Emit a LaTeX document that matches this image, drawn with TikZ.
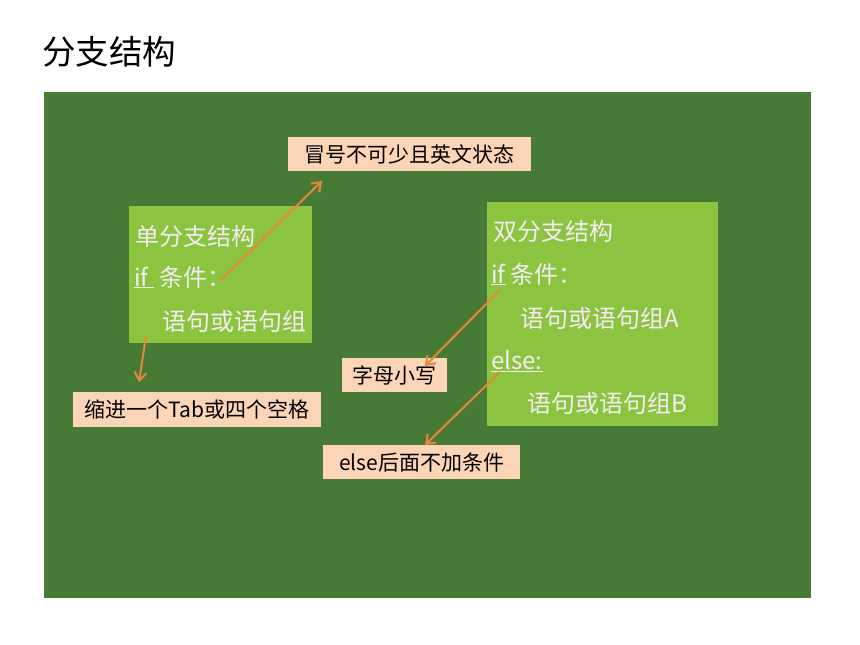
\documentclass[tikz,border=0pt]{standalone}
\usepackage{fontspec}
\setmainfont{Noto Sans CJK SC}
\usetikzlibrary{arrows.meta}
\definecolor{bgdark}{RGB}{70,122,53}
\definecolor{boxgreen}{RGB}{140,196,64}
\definecolor{peach}{RGB}{251,213,182}
\definecolor{arrorange}{RGB}{232,135,58}
\definecolor{softwhite}{RGB}{243,236,243}
\begin{document}
\begin{tikzpicture}[x=1pt,y=-1pt,
  titletext/.style={font=\fontsize{33.5pt}{38pt}\selectfont, text=black, inner sep=0pt, anchor=west},
  gbox/.style={fill=boxgreen, draw=none, anchor=north west, inner sep=0pt},
  gtext/.style={font=\fontsize{24pt}{27pt}\selectfont, text=softwhite, inner sep=0pt, anchor=base west},
  pbox/.style={fill=peach, draw=none, anchor=north west, inner sep=0pt, font=\fontsize{21pt}{24pt}\selectfont, text=black},
  callout/.style={draw=arrorange, line width=2pt, -{Straight Barb[length=8pt,width=12pt]}}
]
\useasboundingbox (0,0) rectangle (860,645);
\fill[white] (0,0) rectangle (860,645);
\node[titletext] (title) at (42,52) {分支结构};
\fill[bgdark] (44,92) rectangle (811,598);

% green boxes
\node[gbox, minimum width=183pt, minimum height=137pt] (leftbox) at (129,206) {};
\node[gbox, minimum width=231pt, minimum height=224pt] (rightbox) at (487,202) {};

% left box text
\node[gtext] (l1) at (135,245) {单分支结构};
\node[gtext] (l2) at (134,286) {\underline{if\ }\ 条件：};
\node[gtext] (l3) at (162,330) {语句或语句组};

% right box text
\node[gtext] (r1) at (493,240) {双分支结构};
\node[gtext] (r2) at (491,283) {\underline{if} 条件：};
\node[gtext] (r3) at (520,327) {语句或语句组A};
\node[gtext] (r4) at (491,369) {\underline{else:}};
\node[gtext] (r5) at (527,412) {语句或语句组B};

% peach callouts
\node[pbox, minimum width=243pt, minimum height=34pt] (p1) at (288,137) {冒号不可少且英文状态};
\node[pbox, minimum width=248pt, minimum height=35pt] (p2) at (73,392) {缩进一个Tab或四个空格};
\node[pbox, minimum width=105pt, minimum height=34pt] (p3) at (342,358) {字母小写};
\node[pbox, minimum width=197pt, minimum height=34pt] (p4) at (323,445) {else后面不加条件};

% arrow coordinates
\coordinate (a1s) at (220,281);
\coordinate (a1e) at (322,181);
\coordinate (a2s) at (146,336);
\coordinate (a2e) at (139,382);
\coordinate (a3s) at (500,290);
\coordinate (a3e) at (425,366);
\coordinate (a4s) at (500,372);
\coordinate (a4e) at (425,445);

\draw[callout] (a1s) -- (a1e);
\draw[callout] (a2s) -- (a2e);
\draw[callout] (a3s) -- (a3e);
\draw[callout] (a4s) -- (a4e);
\end{tikzpicture}
\end{document}
